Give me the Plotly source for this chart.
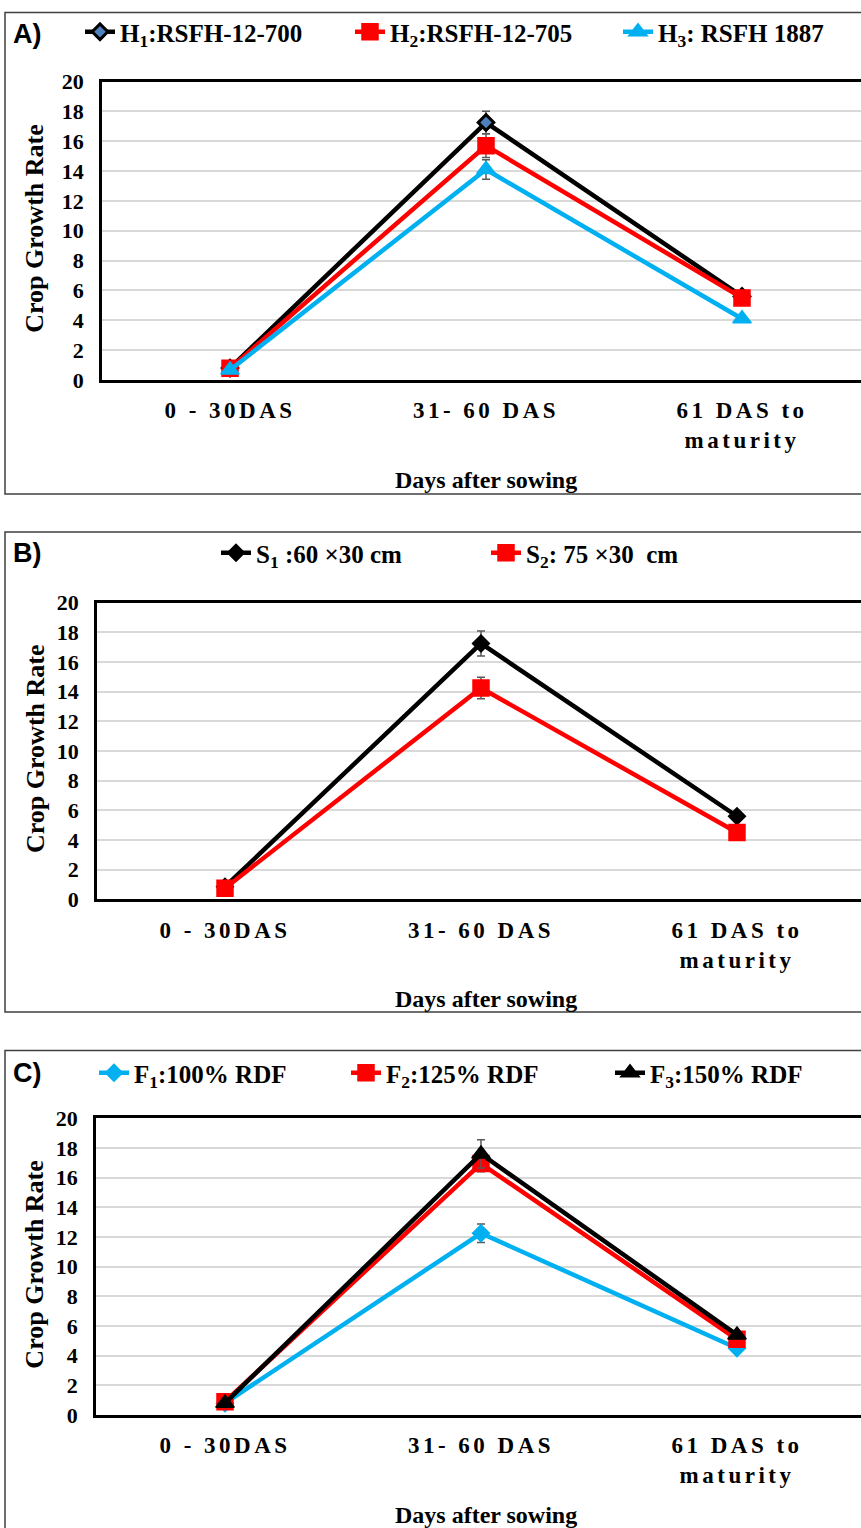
import plotly.graph_objects as go

W, H = 861, 1528

categories = ["0 - 30DAS", "31- 60 DAS", "61 DAS to<br>maturity"]
x_idx = [0, 1, 2]

# Panel A: hybrids
a_names = ["H<sub>1</sub>:RSFH-12-700", "H<sub>2</sub>:RSFH-12-705", "H<sub>3</sub>: RSFH 1887"]
a_h1 = [0.8, 17.25, 5.6]
a_h2 = [0.78, 15.7, 5.5]
a_h3 = [0.67, 14.1, 4.1]
a_h1_err = [0.05, 0.75, 0.2]
a_h2_err = [0.05, 0.8, 0.2]
a_h3_err = [0.05, 0.65, 0.2]

# Panel B: spacing
b_names = ["S<sub>1</sub> :60 ×30 cm", "S<sub>2</sub>: 75 ×30  cm"]
b_s1 = [0.85, 17.25, 5.6]
b_s2 = [0.75, 14.25, 4.5]
b_s1_err = [0.05, 0.85, 0.2]
b_s2_err = [0.05, 0.72, 0.2]

# Panel C: fertilizer
c_names = ["F<sub>1</sub>:100% RDF", "F<sub>2</sub>:125% RDF", "F<sub>3</sub>:150% RDF"]
c_f1 = [0.8, 12.25, 4.5]
c_f2 = [0.9, 16.95, 5.1]
c_f3 = [0.8, 17.6, 5.4]
c_f1_err = [0.05, 0.62, 0.2]
c_f2_err = [0.05, 0.55, 0.2]
c_f3_err = [0.05, 0.95, 0.2]

BLACK = "#000000"
RED = "#FF0000"
BLUE = "#00B0F0"
ERR = "#595959"
SERIF = "Liberation Serif, Times New Roman, serif"


def py(px):
    return 1 - px / H


def px_x(px):
    return px / W


def trace(x, y, err, name, color, symbol, mfill, size, xa, ya, leg, mline=1.5):
    return go.Scatter(
        x=x, y=y, name=name, mode="lines+markers",
        line=dict(color=color, width=4.5),
        marker=dict(symbol=symbol, size=size, color=mfill,
                    line=dict(color=color, width=mline)),
        error_y=dict(type="data", array=err, color=ERR, thickness=1.5, width=4),
        xaxis=xa, yaxis=ya, legend=leg,
    )


fig = go.Figure()
fig.add_trace(trace(x_idx, a_h1, a_h1_err, a_names[0], BLACK, "diamond", "#4F81BD", 12, "x", "y", "legend", 3))
fig.add_trace(trace(x_idx, a_h2, a_h2_err, a_names[1], RED, "square", RED, 16, "x", "y", "legend2"))
fig.add_trace(trace(x_idx, a_h3, a_h3_err, a_names[2], BLUE, "triangle-up", BLUE, 16, "x", "y", "legend3"))

fig.add_trace(trace(x_idx, b_s1, b_s1_err, b_names[0], BLACK, "diamond", BLACK, 13, "x2", "y2", "legend4"))
fig.add_trace(trace(x_idx, b_s2, b_s2_err, b_names[1], RED, "square", RED, 16, "x2", "y2", "legend5"))

fig.add_trace(trace(x_idx, c_f1, c_f1_err, c_names[0], BLUE, "diamond", BLUE, 13, "x3", "y3", "legend6"))
fig.add_trace(trace(x_idx, c_f2, c_f2_err, c_names[1], RED, "square", RED, 16, "x3", "y3", "legend7"))
fig.add_trace(trace(x_idx, c_f3, c_f3_err, c_names[2], BLACK, "triangle-up", BLACK, 16, "x3", "y3", "legend8"))

# panel geometry (pixels)
panels = [
    dict(left=102, top=81.5, bottom=380, x0=230),
    dict(left=97, top=602.7, bottom=899.3, x0=225),
    dict(left=96, top=1118.3, bottom=1415, x0=225),
]
spacing = 256.0
tickfont = dict(family=SERIF, size=22, color="black", weight="bold")
xtickfont = dict(family=SERIF, size=23, color="black", weight="bold")

for i, p in enumerate(panels, start=1):
    sx = "" if i == 1 else str(i)
    xr = [-(p["x0"] - p["left"]) / spacing, (W - p["x0"]) / spacing]
    fig.update_layout(**{
        "xaxis" + sx: dict(
            domain=[px_x(p["left"]), 1], range=xr, anchor="y" + sx,
            tickvals=x_idx, ticktext=categories, tickfont=xtickfont,
            showline=True, linecolor="black", linewidth=2.5, mirror=True,
            showgrid=False, zeroline=False, ticks="", ticklabelstandoff=8,
            fixedrange=True, automargin=False,
        ),
        "yaxis" + sx: dict(
            domain=[py(p["bottom"]), py(p["top"])], range=[0, 20], dtick=2,
            anchor="x" + sx, tickfont=tickfont,
            showline=True, linecolor="black", linewidth=2.5, mirror=False,
            showgrid=True, gridcolor="#D9D9D9", gridwidth=1.8, zeroline=False,
            ticks="", ticklabelstandoff=11, fixedrange=True, automargin=False,
        ),
    })

annotations = []
shapes = []
label_y = [34, 553, 1073]
box = [(12.5, 494), (532, 1012), (1050.5, 1540)]
for i, p in enumerate(panels):
    annotations.append(dict(
        text="Crop Growth Rate", textangle=-90, x=px_x(35), y=py((p["top"] + p["bottom"]) / 2 - 2),
        xref="paper", yref="paper", showarrow=False, xanchor="center", yanchor="middle",
        font=dict(family=SERIF, size=26, color="black", weight="bold"),
    ))
    annotations.append(dict(
        text="Days after sowing", x=px_x(486), y=py(p["bottom"] + 100),
        xref="paper", yref="paper", showarrow=False, xanchor="center", yanchor="middle",
        font=dict(family=SERIF, size=24, color="black", weight="bold"),
    ))
    annotations.append(dict(
        text="ABC"[i] + ")", x=px_x(11), y=py(label_y[i]),
        xref="paper", yref="paper", showarrow=False, xanchor="left", yanchor="middle",
        font=dict(family="Liberation Sans Narrow, Liberation Sans, sans-serif", size=27,
                  color="black", weight="bold"),
    ))
    shapes.append(dict(
        type="rect", xref="paper", yref="paper",
        x0=px_x(5), x1=1.02, y0=py(box[i][1]), y1=py(box[i][0]),
        line=dict(color="#404040", width=1.5), fillcolor="rgba(0,0,0,0)",
    ))

legfont = dict(family=SERIF, size=25, color="black", weight="bold")
# text start x for each legend entry (pixels) and its row y
leg_pos = [(122, 32), (392, 32), (660, 32),
           (258, 553), (528, 553),
           (136, 1073), (388, 1073), (652, 1073)]
leg_layout = {}
for k, (tx, ty) in enumerate(leg_pos):
    key = "legend" if k == 0 else "legend%d" % (k + 1)
    leg_layout[key] = dict(
        orientation="h", x=px_x(tx - 42), y=py(ty), xanchor="left", yanchor="middle",
        font=legfont, bgcolor="rgba(0,0,0,0)", borderwidth=0,
    )

fig.update_layout(
    width=W, height=H,
    margin=dict(l=0, r=0, t=0, b=0, pad=0, autoexpand=False),
    paper_bgcolor="white", plot_bgcolor="white", showlegend=True,
    annotations=annotations, shapes=shapes,
    **leg_layout,
)

post = """
document.documentElement.style.margin='0';
document.documentElement.style.overflow='hidden';
document.body.style.margin='0';
document.body.style.overflow='hidden';
var gd = document.querySelector('.plotly-graph-div');
if (gd) { gd.style.position='fixed'; gd.style.top='0px'; gd.style.left='0px'; }
document.querySelectorAll('.xtick text, .x2tick text, .x3tick text').forEach(function(t){
  t.setAttribute('letter-spacing','3.5px');
});
"""
fig.write_html("out.html", post_script=post, config={"displayModeBar": False})
